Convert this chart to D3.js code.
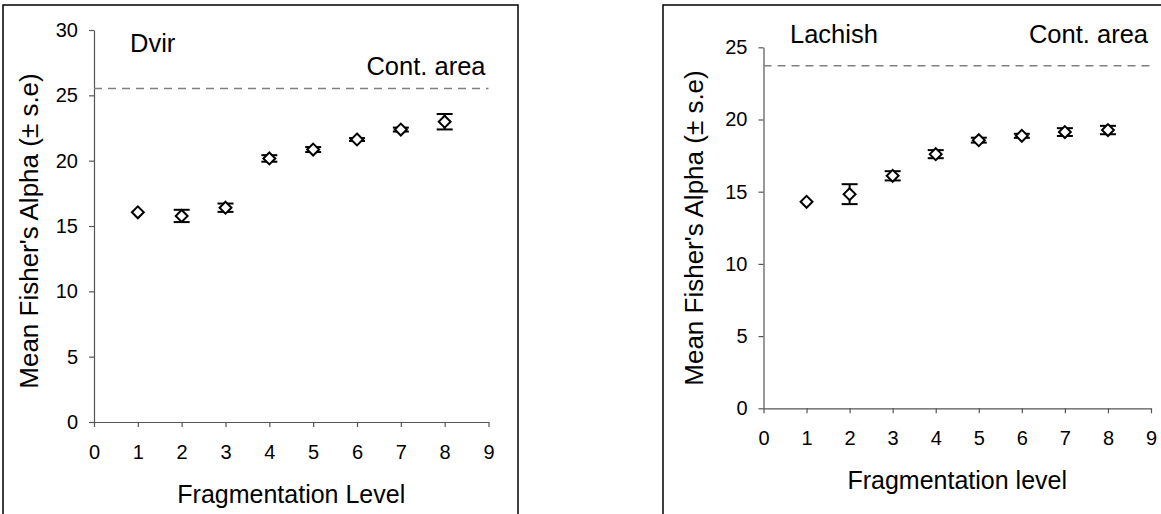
<!DOCTYPE html>
<html>
<head>
<meta charset="utf-8">
<script src="https://cdn.jsdelivr.net/npm/d3@7"></script>
<style>
  body { margin: 0; background: #fff; }
  svg text { font-family: "Liberation Sans", Arial, sans-serif; fill: #000; }
</style>
</head>
<body>
<div id="chart"></div>
<script>
// Fragmentation levels (x values)
const levels = [1, 2, 3, 4, 5, 6, 7, 8];

// Dvir: mean Fisher's alpha and standard error
const dvirMean = [16.05, 15.77, 16.4, 20.17, 20.85, 21.62, 22.38, 22.98];
const dvirSe   = [0, 0.47, 0.32, 0.25, 0.19, 0.11, 0.15, 0.59];
const dvirControl = 25.53;

// Lachish: mean Fisher's alpha and standard error
const lachishMean = [14.3, 14.83, 16.1, 17.6, 18.57, 18.87, 19.13, 19.27];
const lachishSe   = [0, 0.69, 0.32, 0.28, 0.17, 0.14, 0.27, 0.29];
const lachishControl = 23.72;

// Tick values
const xTicks = [0, 1, 2, 3, 4, 5, 6, 7, 8, 9];
const dvirYTicks = [0, 5, 10, 15, 20, 25, 30];
const lachishYTicks = [0, 5, 10, 15, 20, 25];

const svg = d3.select("#chart")
    .append("svg")
    .attr("width", 1161)
    .attr("height", 514);

function drawPanel(p) {
    // Outer frame of the panel
    svg.append("rect")
        .attr("x", p.box[0])
        .attr("y", p.box[1])
        .attr("width", p.box[2])
        .attr("height", p.box[3])
        .attr("fill", "none")
        .attr("stroke", "#000")
        .attr("stroke-width", 1.5);

    const x = d3.scaleLinear().domain([0, 9]).range([p.left, p.right]);
    const y = d3.scaleLinear().domain([0, p.yMax]).range([p.bottom, p.top]);

    // Axes
    const xAxis = svg.append("g")
        .attr("transform", `translate(0,${p.bottom})`)
        .call(d3.axisBottom(x).tickValues(xTicks).tickSize(5).tickPadding(13).tickSizeOuter(0));
    const yAxis = svg.append("g")
        .attr("transform", `translate(${p.left},0)`)
        .call(d3.axisLeft(y).tickValues(p.yTicks).tickSize(5).tickPadding(11).tickSizeOuter(0));

    [xAxis, yAxis].forEach(g => {
        g.selectAll("path, line").attr("stroke", "#555").attr("stroke-width", 1.2);
        g.selectAll("text")
            .attr("fill", "#000")
            .style("font-size", "20px")
            .style("font-family", "'Liberation Sans', Arial, sans-serif");
    });
    xAxis.selectAll("text").attr("dy", "0.95em");

    // Control area dashed line
    svg.append("line")
        .attr("x1", p.left)
        .attr("x2", p.right)
        .attr("y1", y(p.control))
        .attr("y2", y(p.control))
        .attr("stroke", "#808080")
        .attr("stroke-width", 1.5)
        .attr("stroke-dasharray", "8,6");

    // Error bars
    const data = levels.map((l, i) => ({level: l, mean: p.mean[i], se: p.se[i]}));
    const bars = svg.append("g").attr("stroke", "#000").attr("stroke-width", 2);
    data.filter(d => d.se > 0).forEach(d => {
        bars.append("line")
            .attr("x1", x(d.level)).attr("x2", x(d.level))
            .attr("y1", y(d.mean - d.se)).attr("y2", y(d.mean + d.se));
        [d.mean - d.se, d.mean + d.se].forEach(v => {
            bars.append("line")
                .attr("x1", x(d.level) - 8).attr("x2", x(d.level) + 8)
                .attr("y1", y(v)).attr("y2", y(v));
        });
    });

    // Diamond markers
    svg.selectAll(null)
        .data(data)
        .enter().append("path")
        .attr("d", d3.symbol().type(d3.symbolDiamond2).size(90))
        .attr("transform", d => `translate(${x(d.level)},${y(d.mean)})`)
        .attr("fill", "#fff")
        .attr("stroke", "#000")
        .attr("stroke-width", 2);

    // Labels
    svg.append("text")
        .attr("x", p.nameX)
        .attr("y", p.nameY)
        .style("font-size", "25.5px")
        .text(p.name);

    svg.append("text")
        .attr("x", p.right - 3)
        .attr("y", p.contY)
        .attr("text-anchor", "end")
        .style("font-size", "25.5px")
        .text("Cont. area");

    svg.append("text")
        .attr("x", (p.left + p.right) / 2)
        .attr("y", p.xTitleY)
        .attr("text-anchor", "middle")
        .style("font-size", "25px")
        .text(p.xTitle);

    svg.append("text")
        .attr("transform", `translate(${p.yTitleX},${p.yTitleCy}) rotate(-90)`)
        .attr("text-anchor", "middle")
        .style("font-size", "26px")
        .text("Mean Fisher's Alpha (\u00b1 s.e)");
}

drawPanel({
    box: [3, 5, 515, 530],
    left: 94, right: 488.5, top: 30, bottom: 422, yMax: 30,
    yTicks: dvirYTicks, mean: dvirMean, se: dvirSe, control: dvirControl,
    name: "Dvir", nameX: 130, nameY: 52, contY: 75,
    xTitle: "Fragmentation Level", xTitleY: 503,
    yTitleX: 38, yTitleCy: 231
});

drawPanel({
    box: [663, 5, 515, 530],
    left: 763.5, right: 1151, top: 47.3, bottom: 408.3, yMax: 25,
    yTicks: lachishYTicks, mean: lachishMean, se: lachishSe, control: lachishControl,
    name: "Lachish", nameX: 790, nameY: 43, contY: 43,
    xTitle: "Fragmentation level", xTitleY: 489,
    yTitleX: 703, yTitleCy: 228
});
</script>
</body>
</html>
